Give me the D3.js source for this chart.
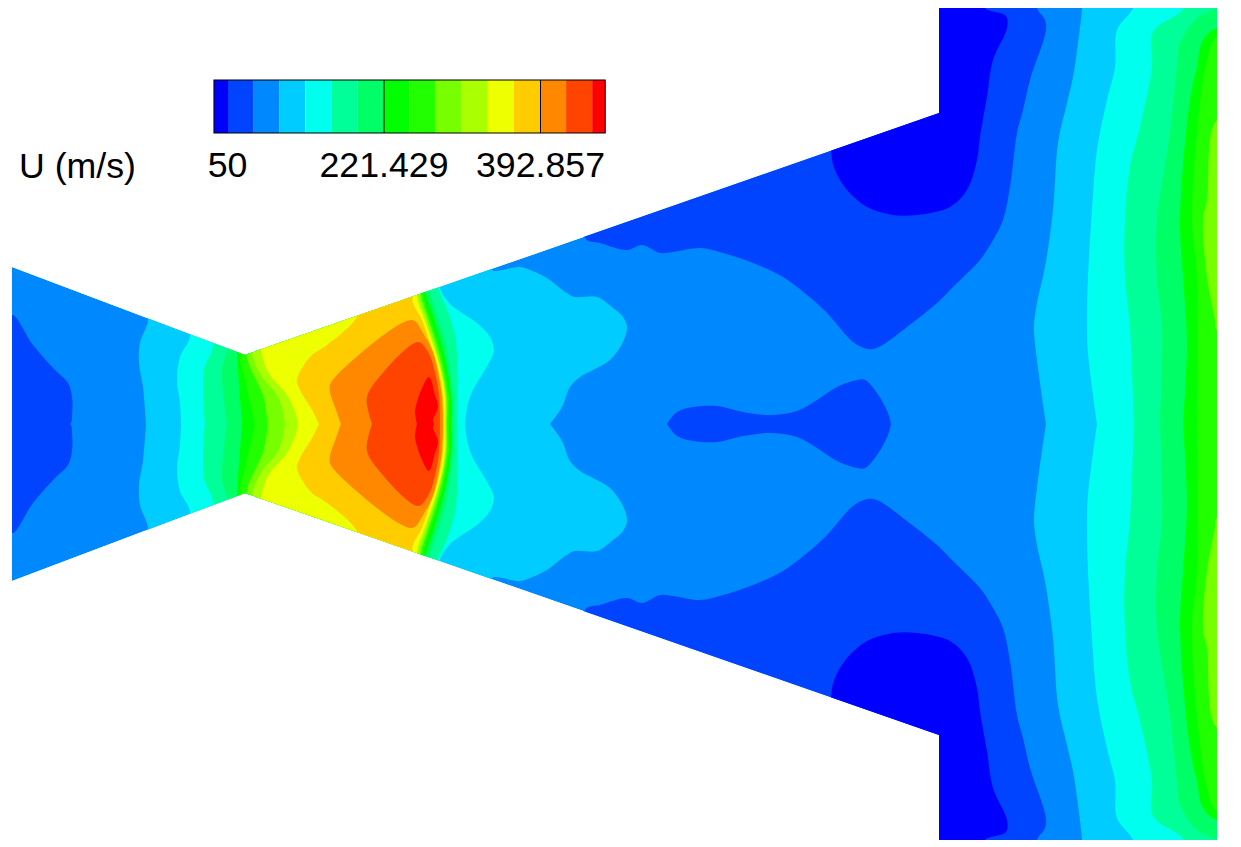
<!DOCTYPE html>
<html>
<head>
<meta charset="utf-8">
<title>U (m/s)</title>
<script src="https://cdn.jsdelivr.net/npm/d3@7"></script>
<style>
  html, body { margin: 0; padding: 0; background: #fff; }
  svg { display: block; }
  text { font-family: "Liberation Sans", Arial, sans-serif; fill: #000; }
</style>
</head>
<body>
<div id="my_dataviz"></div>
<script>

var contourLevels = [50, 78.571, 107.143, 135.714, 164.286, 192.857, 221.429, 250,
                     278.571, 307.143, 335.714, 364.286, 392.857, 421.429, 450];
var bandColors = ['#0000ff', '#0044ff', '#0088ff', '#00ccff', '#00ffee', '#00ff99', '#00ff66', '#00ff00',
                  '#22ff00', '#77ff00', '#aaff00', '#eeff00', '#ffcc00', '#ff8800', '#ff4400', '#ff0000'];
var legendRange = [35.714, 464.286];
var legendTicks = [50, 221.429, 392.857];
var legendTickLabels = ['50', '221.429', '392.857'];

// nozzle wall, [x, distance from the centreline], upper half
var wallOutline = [[12, 157], [245, 69], [939, 311], [939, 416], [1217, 416]];

// contour outlines, upper half only, the lower half is mirrored
// points past the wall get clipped away
var band0Outlet = [[831, 274], [835, 254], [847, 234], [867, 217], [893, 209], [917, 209], [950, 217], [967, 234], [977, 264], [980, 287], [987, 327], [993, 364], [1007, 396], [1006, 408], [985, 416], [985, 430], [831, 430]];
var band1Outlet = [[585, 186], [600, 181], [627, 174], [642, 179], [660, 171], [673, 172], [700, 176], [723, 171], [753, 161], [783, 147], [807, 129], [827, 111], [853, 82], [867, 75], [877, 76], [907, 97], [937, 121], [953, 137], [980, 164], [993, 184], [1003, 204], [1010, 237], [1017, 291], [1023, 314], [1030, 344], [1046, 394], [1045, 404], [1037, 416], [1037, 430], [585, 430]];
var band1Inlet = [[12, 109], [33, 79], [55, 54], [68, 41], [72, 27], [72, 9], [70, 0], [12, 0]];
var band1Island = [[667, 0], [677, 12], [693, 17], [717, 18], [743, 12], [770, 9], [797, 13], [817, 24], [837, 37], [857, 44], [865, 44], [877, 31], [888, 11], [891, 0]];
var band3Throat = [[146, 0], [143, 37], [139, 61], [140, 81], [148, 103], [148, 124], [492, 174], [492, 154], [520, 157], [535, 152], [550, 144], [565, 132], [575, 127], [597, 127], [613, 116], [623, 107], [627, 97], [623, 82], [610, 64], [593, 54], [580, 47], [570, 37], [562, 17], [550, 0]];
var band3Outlet = [[1046, 0], [1037, 64], [1034, 97], [1037, 121], [1045, 157], [1053, 214], [1058, 281], [1067, 321], [1073, 347], [1078, 381], [1082, 416], [1082, 430], [1250, 430], [1250, 0]];
var band4Throat = [[181, 0], [180, 21], [177, 44], [180, 67], [190, 87], [190, 124], [440, 154], [440, 136], [450, 120], [462, 111], [477, 101], [490, 87], [494, 74], [492, 67], [483, 51], [472, 32], [467, 16], [465, 0]];
var band4Outlet = [[1097, 0], [1088, 71], [1087, 97], [1088, 147], [1092, 214], [1097, 274], [1107, 324], [1115, 357], [1117, 394], [1133, 416], [1133, 430], [1250, 430], [1250, 0]];
var band5Throat = [[205, 0], [204, 54], [213, 77], [213, 124], [436, 152], [438, 136], [448, 112], [455, 89], [457, 69], [457, 0]];
var band5Outlet = [[1134, 0], [1130, 97], [1125, 147], [1125, 204], [1130, 257], [1140, 297], [1152, 357], [1153, 392], [1183, 415], [1183, 430], [1250, 430], [1250, 0]];
var band6Throat = [[227, 0], [222, 54], [227, 74], [227, 124], [430, 152], [430, 133], [438, 106], [446, 79], [450, 52], [453, 27], [453, 0]];
var band6Outlet = [[1160, 0], [1162, 97], [1157, 147], [1157, 204], [1170, 291], [1177, 357], [1180, 381], [1195, 404], [1217, 416], [1250, 430], [1250, 0]];
var band7Throat = [[242, 0], [238, 54], [237, 71], [237, 124], [426, 152], [426, 131], [434, 106], [443, 74], [448, 52], [451, 27], [451, 0]];
var band7Outlet = [[1183, 0], [1187, 81], [1183, 147], [1180, 204], [1190, 324], [1197, 357], [1203, 384], [1217, 396], [1250, 396], [1250, 0]];
var band8Throat = [[255, 0], [245, 44], [240, 68], [240, 124], [423, 152], [423, 130], [430, 106], [440, 74], [445, 52], [449, 27], [449, 0]];
var band8Outlet = [[1197, 0], [1197, 147], [1192, 204], [1197, 291], [1207, 364], [1217, 387], [1250, 387], [1250, 0]];
var band9Throat = [[268, 0], [263, 29], [255, 46], [247, 67], [247, 124], [421, 152], [421, 129], [428, 106], [438, 74], [443, 52], [447, 27], [447, 0]];
var band9Outlet = [[1217, 94], [1215, 104], [1207, 147], [1203, 204], [1207, 224], [1217, 304], [1250, 304], [1250, 94]];
var band10Throat = [[285, 0], [283, 12], [277, 29], [263, 46], [253, 67], [250, 124], [419, 152], [419, 128], [426, 106], [436, 74], [442, 52], [446, 27], [446, 0]];
var band11Throat = [[298, 0], [296, 9], [287, 29], [270, 49], [262, 69], [258, 124], [417, 152], [417, 127], [424, 106], [435, 74], [441, 52], [445, 27], [445, 0]];
var band12Throat = [[319, 0], [312, 14], [300, 34], [297, 44], [302, 56], [312, 69], [327, 79], [358, 109], [358, 134], [411, 154], [413, 121], [421, 106], [433, 72], [439, 52], [443, 27], [444, 0]];
var band13Throat = [[341, 0], [336, 14], [330, 32], [330, 39], [337, 49], [412, 104], [423, 91], [433, 72], [438, 52], [442, 27], [443, 0]];
var band14Throat = [[372, 0], [367, 19], [367, 27], [373, 39], [418, 82], [428, 72], [435, 52], [439, 29], [440, 0]];
var band15Throat = [[417, 0], [415, 12], [417, 22], [422, 36], [429, 47], [435, 29], [438, 17], [433, 4], [434, 0]];

// paint order, everything not listed stays at band 2
var paintOrder = [
  [1, band1Outlet], [0, band0Outlet], [1, band1Inlet], [1, band1Island],
  [3, band3Throat], [3, band3Outlet],
  [4, band4Throat], [4, band4Outlet],
  [5, band5Throat], [5, band5Outlet],
  [6, band6Throat], [6, band6Outlet],
  [7, band7Throat], [7, band7Outlet],
  [8, band8Throat], [8, band8Outlet],
  [9, band9Throat], [9, band9Outlet],
  [10, band10Throat], [11, band11Throat], [12, band12Throat],
  [13, band13Throat], [14, band14Throat], [15, band15Throat]
];

var width = 1241,
    height = 847;

var svg = d3.select("#my_dataviz")
  .append("svg")
    .attr("width", width)
    .attr("height", height);

var x = d3.scaleLinear()
  .domain([12, 1217])
  .range([12, 1217]);

var y = d3.scaleLinear()
  .domain([416, -416])
  .range([8, 840]);

var outline = d3.line()
  .x(function(d) { return x(d[0]); })
  .y(function(d) { return y(d[1]); });

// the contours are smooth in the picture
var contour = d3.line()
  .x(function(d) { return x(d[0]); })
  .y(function(d) { return y(d[1]); })
  .curve(d3.curveCatmullRomClosed.alpha(0.5));

function mirrored(points) {
  return points.map(function(p) { return [p[0], -p[1]]; });
}

var fullWall = wallOutline.concat(mirrored(wallOutline).reverse());

svg.append("clipPath")
    .attr("id", "wallClip")
  .append("path")
    .attr("d", outline(fullWall) + "Z");

var field = svg.append("g")
  .attr("clip-path", "url(#wallClip)");

field.append("path")
  .attr("d", outline(fullWall) + "Z")
  .attr("fill", bandColors[2]);

paintOrder.forEach(function(band) {
  var points = band[1];
  // a band on the centreline is one loop, the others come as a separate pair
  var onCentre = points.some(function(p) { return p[1] === 0; });
  var loops = onCentre ? [points.concat(mirrored(points).reverse())] : [points, mirrored(points)];
  loops.forEach(function(loop) {
    field.append("path")
      .attr("d", contour(loop))
      .attr("fill", bandColors[band[0]]);
  });
});

// legend
var legendTop = 80,
    legendHeight = 53;

var legendX = d3.scaleLinear()
  .domain([50, 392.857])
  .range([227, 540]);

var legend = svg.append("g");

var legendEdges = [legendRange[0]].concat(contourLevels, [legendRange[1]]);

legend.selectAll("rect.cell")
  .data(bandColors)
  .enter()
  .append("rect")
    .attr("class", "cell")
    .attr("x", function(d, i) { return legendX(legendEdges[i]); })
    .attr("y", legendTop)
    .attr("width", function(d, i) { return legendX(legendEdges[i + 1]) - legendX(legendEdges[i]); })
    .attr("height", legendHeight)
    .attr("fill", function(d) { return d; });

legend.append("rect")
  .attr("x", legendX(legendRange[0]))
  .attr("y", legendTop)
  .attr("width", legendX(legendRange[1]) - legendX(legendRange[0]))
  .attr("height", legendHeight)
  .attr("fill", "none")
  .attr("stroke", "#000")
  .attr("stroke-width", 1);

var legendAxis = d3.axisBottom(legendX)
  .tickValues(legendTicks)
  .tickSize(-legendHeight)
  .tickPadding(19)
  .tickFormat(function(d, i) { return legendTickLabels[i]; });

legend.append("g")
  .attr("transform", "translate(0," + (legendTop + legendHeight) + ")")
  .call(legendAxis)
  .call(function(g) { g.select(".domain").remove(); })
  .call(function(g) {
    g.selectAll("text").style("font-size", "35.7px").style("font-family", '"Liberation Sans", Arial, sans-serif');
    g.selectAll("line").attr("stroke", "#000");
  });

svg.append("text")
  .attr("x", 19)
  .attr("y", 178)
  .style("font-size", "35.7px")
  .text("U (m/s)");

</script>
</body>
</html>
